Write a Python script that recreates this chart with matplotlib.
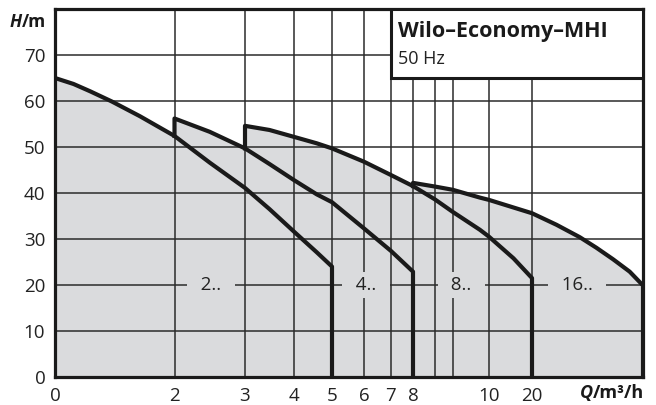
import numpy as np
import matplotlib
matplotlib.use("Agg")
import matplotlib.pyplot as plt
from matplotlib.patches import Rectangle

plt.rcParams['font.family'] = ['Open Sans', 'DejaVu Sans']

# Q axis grid values (m³/h) and the labels printed under them
q_grid = [0, 2, 3, 4, 5, 6, 7, 8, 8.5, 9, 10, 20, 30]
q_labels = ['0', '2', '3', '4', '5', '6', '7', '8', '', '', '10', '20', '']
h_ticks = [0, 10, 20, 30, 40, 50, 60, 70]

# pump curves (Q in m³/h, H in m)
q_2 = [0, 0.31, 0.59, 0.95, 1.42, 2.0, 2.5, 3.0, 3.5, 4.0, 4.6, 5.0]
h_2 = [65.0, 63.7, 62.1, 59.9, 56.7, 52.4, 46.6, 41.1, 36.5, 31.6, 27.1, 24.0]
q_4 = [2.0, 2.5, 3.0, 3.5, 4.0, 4.6, 5.0, 6.0, 7.0, 8.0]
h_4 = [56.2, 53.3, 49.7, 46.3, 42.8, 39.7, 38.0, 32.3, 27.4, 22.9]
q_8 = [3.0, 3.5, 4.0, 4.6, 5.0, 6.0, 7.0, 8.0, 8.5, 9.0, 9.75, 10.0, 15.7, 20.0]
h_8 = [54.6, 53.7, 52.2, 50.8, 49.7, 46.8, 43.9, 41.5, 38.6, 35.9, 32.0, 30.5, 25.8, 21.5]
q_16 = [8.0, 8.5, 9.0, 9.75, 10.0, 20.0, 22.2, 24.3, 25.8, 27.3, 28.8, 30.0]
h_16 = [42.2, 41.4, 40.7, 39.0, 38.5, 35.6, 33.1, 30.4, 28.1, 25.6, 22.9, 19.9]

series = ['2..', '4..', '8..', '16..']
label_q = [2.52, 6.07, 9.24, 24.05]
label_h = [20, 20, 20, 20]

# the Q axis is stretched unevenly, position of each grid value along it
q_pos = [0, 119.5, 190, 239, 277, 309, 336, 358, 380, 397.7, 434, 477, 588]


def fwd(q):
    return np.interp(q, q_grid, q_pos)


def inv(p):
    return np.interp(p, q_pos, q_grid)


fill = '#dadbdd'
ink = '#1a1a1a'

fig = plt.figure(figsize=(6.56, 4.05), dpi=100)
ax = fig.add_axes([55 / 656, 1 - 377 / 405, 588 / 656, 368 / 405])
ax.set_xscale('function', functions=(fwd, inv))
ax.set_xlim(0, 30)
ax.set_ylim(0, 80)

curves = [(q_2, h_2), (q_4, h_4), (q_8, h_8), (q_16, h_16)]
prev = None
for q, h in curves:
    x = list(q)
    y = list(h)
    if prev is not None:
        # start on the curve of the previous size
        x = [q[0]] + x
        y = [float(np.interp(q[0], prev[0], prev[1]))] + y
    x = x + [q[-1]]
    y = y + [0]
    ax.fill_between(x, 0, y, color=fill, lw=0, zorder=1)
    ax.plot(x, y, color=ink, lw=3, solid_joinstyle='round', zorder=3)
    prev = (q, h)

for name, lq, lh in zip(series, label_q, label_h):
    ax.text(lq, lh, '  ' + name + '  ', ha='center', va='center', fontsize=13.5,
            color='#222222', zorder=3.5,
            bbox=dict(boxstyle='square,pad=0.2', fc=fill, ec='none'))

ax.set_xticks(q_grid, q_labels)
ax.set_yticks(h_ticks)
ax.xaxis.set_minor_locator(matplotlib.ticker.NullLocator())
ax.grid(True, color='#2b2b2b', lw=1.1)
ax.tick_params(length=0, labelsize=13.5, pad=7, colors='#222222')
for s in ax.spines.values():
    s.set_linewidth(2.3)
    s.set_color(ink)
    s.set_zorder(4)

# title box
ax.add_patch(Rectangle((7, 65), 23, 15, fc='white', ec=ink, lw=2.2, zorder=5))
fig.text(398 / 656, 1 - 37.3 / 405, 'Wilo–Economy–MHI', fontsize=15.5,
         fontweight='bold', color=ink, zorder=6)
fig.text(398 / 656, 1 - 64 / 405, '50 Hz', fontsize=13, color='#222222', zorder=6)

# axis labels, italic quantity + bold unit
t_m = fig.text(45.5 / 656, 1 - 27.3 / 405, '/m', ha='right', va='baseline',
               fontsize=12.5, fontweight='bold', color=ink)
ax.annotate('H', xy=(0, 1 - 27.3 / 405), xycoords=(t_m, fig.transFigure),
            ha='right', va='baseline', fontsize=12.5, fontweight='bold',
            fontstyle='italic', color=ink, annotation_clip=False)
t_q = fig.text(644 / 656, 1 - 397.7 / 405, '/m³/h', ha='right', va='baseline',
               fontsize=13, fontweight='bold', color=ink)
ax.annotate('Q', xy=(0, 1 - 397.7 / 405), xycoords=(t_q, fig.transFigure),
            ha='right', va='baseline', fontsize=13, fontweight='bold',
            fontstyle='italic', color=ink, annotation_clip=False)

plt.savefig('out.png', dpi=100)
